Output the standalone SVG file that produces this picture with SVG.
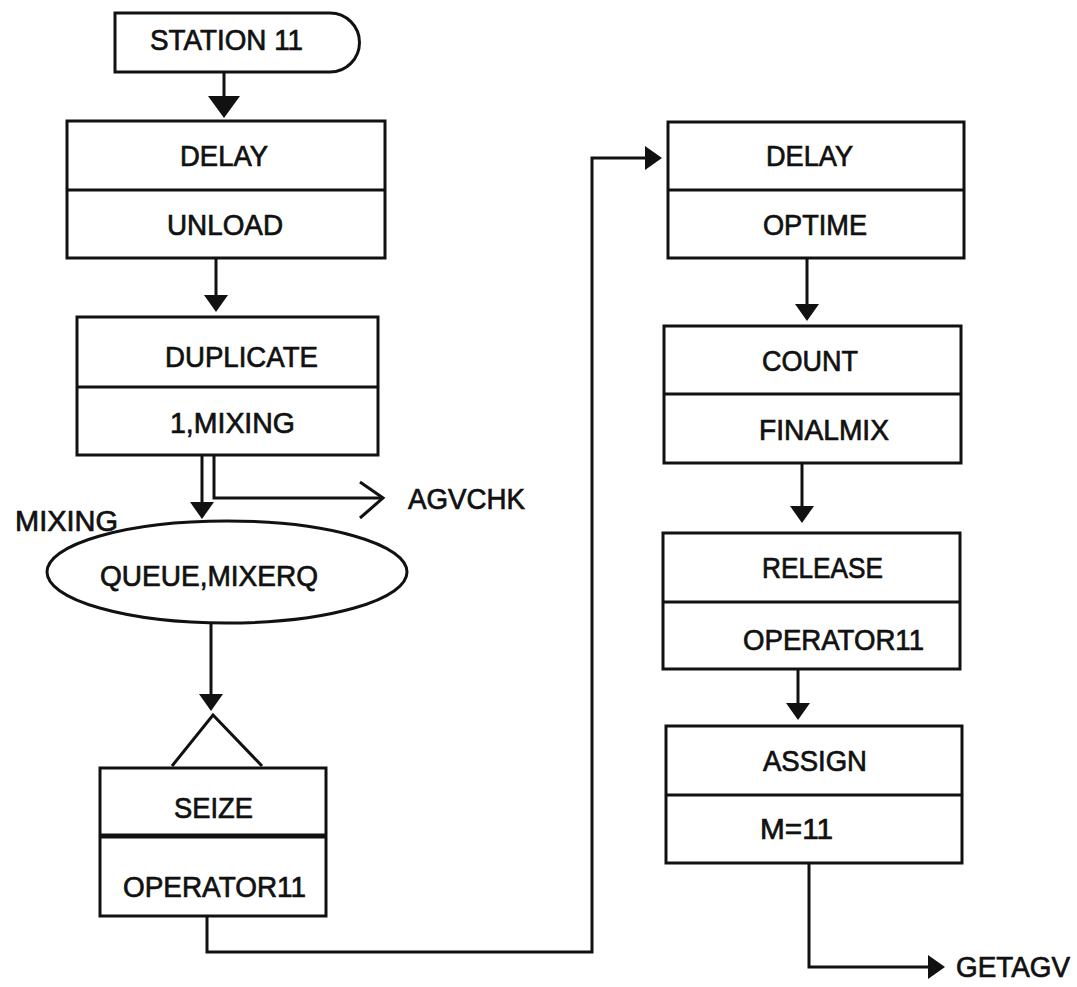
<svg xmlns="http://www.w3.org/2000/svg" width="1077" height="987" viewBox="0 0 1077 987">
  <style>
    .box { fill: #fff; stroke: #111; stroke-width: 3; }
    .div { fill: none; stroke: #111; stroke-width: 3; }
    .thick { fill: none; stroke: #111; stroke-width: 5; }
    .lbl { font-family: "Liberation Sans", Arial, Helvetica, sans-serif; font-size: 29px; fill: #111; stroke: #111; stroke-width: 0.7; }
    .wire { fill: none; stroke: #111; stroke-width: 3; }
  </style>
  <defs>
    <marker id="arrow" markerUnits="userSpaceOnUse" viewBox="0 0 17 24" markerWidth="17" markerHeight="24" refX="1" refY="12" orient="auto">
      <path d="M0,0 L17,12 L0,24 Z" fill="#111"/>
    </marker>
    <marker id="arrowBig" markerUnits="userSpaceOnUse" viewBox="0 0 22 32" markerWidth="22" markerHeight="32" refX="1" refY="16" orient="auto">
      <path d="M0,0 L22,16 L0,32 Z" fill="#111"/>
    </marker>
    <marker id="chevron" markerUnits="userSpaceOnUse" viewBox="-2 -2 28 40" markerWidth="28" markerHeight="40" refX="23" refY="16" orient="auto">
      <path d="M0,0 L23,16 L0,36" fill="none" stroke="#111" stroke-width="3"/>
    </marker>
  </defs>

  <rect width="1077" height="987" fill="#fff"/>

  <!-- connectors -->
  <g id="connectors">
    <path class="wire" d="M224,72 V97" marker-end="url(#arrowBig)"/>
    <path class="wire" d="M216,258 V296" marker-end="url(#arrow)"/>
    <path class="wire" d="M202,455 V503" marker-end="url(#arrow)"/>
    <path class="wire" d="M214,455 V498 H383" marker-end="url(#chevron)"/>
    <path class="wire" d="M211,623 V695" marker-end="url(#arrow)"/>
    <path class="wire" d="M207,916 V952 H592 V158 H646" marker-end="url(#arrow)"/>
    <path class="wire" d="M807,258 V305" marker-end="url(#arrow)"/>
    <path class="wire" d="M802,463 V507" marker-end="url(#arrow)"/>
    <path class="wire" d="M798,669 V704" marker-end="url(#arrow)"/>
    <path class="wire" d="M809,863 V967 H929" marker-end="url(#arrow)"/>
  </g>

  <!-- STATION 11 -->
  <g id="station11">
    <path class="div" d="M330,13 H115 V72 H330 M330,13 A29.5,29.5 0 0 1 330,72"/>
    <text class="lbl" x="150" y="50" textLength="153" lengthAdjust="spacingAndGlyphs">STATION 11</text>
  </g>

  <!-- DELAY UNLOAD -->
  <g id="delay-unload">
    <rect class="box" x="67" y="121" width="318" height="137"/>
    <line class="div" x1="67" y1="190" x2="385" y2="190"/>
    <text class="lbl" x="180" y="166" textLength="88" lengthAdjust="spacingAndGlyphs">DELAY</text>
    <text class="lbl" x="167" y="235" textLength="116" lengthAdjust="spacingAndGlyphs">UNLOAD</text>
  </g>

  <!-- DUPLICATE 1,MIXING -->
  <g id="duplicate">
    <rect class="box" x="77" y="317" width="301" height="138"/>
    <line class="div" x1="77" y1="387" x2="378" y2="387"/>
    <text class="lbl" x="165" y="367" textLength="153" lengthAdjust="spacingAndGlyphs">DUPLICATE</text>
    <text class="lbl" x="170" y="433" textLength="125" lengthAdjust="spacingAndGlyphs">1,MIXING</text>
  </g>

  <!-- AGVCHK destination -->
  <g id="agvchk">
    <text class="lbl" x="408" y="509" textLength="117" lengthAdjust="spacingAndGlyphs">AGVCHK</text>
  </g>

  <!-- MIXING queue -->
  <g id="queue-mixerq">
    <ellipse class="box" cx="227" cy="572" rx="180" ry="51"/>
    <text class="lbl" x="15" y="531" textLength="103" lengthAdjust="spacingAndGlyphs">MIXING</text>
    <text class="lbl" x="100" y="586" textLength="218" lengthAdjust="spacingAndGlyphs">QUEUE,MIXERQ</text>
  </g>

  <!-- SEIZE OPERATOR11 -->
  <g id="seize">
    <path class="div" d="M172,766 L213,715 L262,766"/>
    <rect class="box" x="100" y="768" width="226" height="148"/>
    <line class="thick" x1="100" y1="836" x2="326" y2="836"/>
    <text class="lbl" x="174" y="818" textLength="79" lengthAdjust="spacingAndGlyphs">SEIZE</text>
    <text class="lbl" x="123" y="897" textLength="183" lengthAdjust="spacingAndGlyphs">OPERATOR11</text>
  </g>

  <!-- DELAY OPTIME -->
  <g id="delay-optime">
    <rect class="box" x="668" y="122" width="296" height="136"/>
    <line class="div" x1="668" y1="190" x2="964" y2="190"/>
    <text class="lbl" x="766" y="166" textLength="87" lengthAdjust="spacingAndGlyphs">DELAY</text>
    <text class="lbl" x="763" y="235" textLength="104" lengthAdjust="spacingAndGlyphs">OPTIME</text>
  </g>

  <!-- COUNT FINALMIX -->
  <g id="count">
    <rect class="box" x="664" y="326" width="297" height="137"/>
    <line class="div" x1="664" y1="394" x2="961" y2="394"/>
    <text class="lbl" x="762" y="371" textLength="96" lengthAdjust="spacingAndGlyphs">COUNT</text>
    <text class="lbl" x="759" y="440" textLength="130" lengthAdjust="spacingAndGlyphs">FINALMIX</text>
  </g>

  <!-- RELEASE OPERATOR11 -->
  <g id="release">
    <rect class="box" x="663" y="533" width="297" height="136"/>
    <line class="div" x1="663" y1="602" x2="960" y2="602"/>
    <text class="lbl" x="762" y="578" textLength="121" lengthAdjust="spacingAndGlyphs">RELEASE</text>
    <text class="lbl" x="743" y="650" textLength="181" lengthAdjust="spacingAndGlyphs">OPERATOR11</text>
  </g>

  <!-- ASSIGN M=11 -->
  <g id="assign">
    <rect class="box" x="666" y="726" width="296" height="137"/>
    <line class="div" x1="666" y1="795" x2="962" y2="795"/>
    <text class="lbl" x="763" y="771" textLength="104" lengthAdjust="spacingAndGlyphs">ASSIGN</text>
    <text class="lbl" x="760" y="839" textLength="73" lengthAdjust="spacingAndGlyphs">M=11</text>
  </g>

  <!-- GETAGV destination -->
  <g id="getagv">
    <text class="lbl" x="956" y="977" textLength="114" lengthAdjust="spacingAndGlyphs">GETAGV</text>
  </g>
</svg>
